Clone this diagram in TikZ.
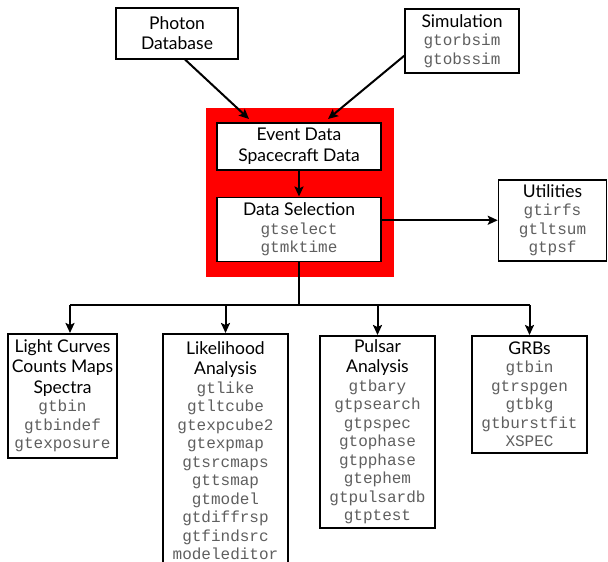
\documentclass[tikz,border=0pt]{standalone}
\usepackage{fontspec}
\setmainfont{Lato}
\setmonofont{Liberation Mono}
\usetikzlibrary{positioning,arrows.meta}
\definecolor{ToolGray}{RGB}{95,95,95}
\newcommand{\Tool}[1]{{\fontsize{16}{18.5}\ttfamily\color{ToolGray}#1}}
\tikzset{
  Box/.style = {draw, line width=1.5pt, fill=white, align=center, anchor=north,
                inner sep=3pt, font=\fontsize{17.5}{18.5}\selectfont},
  Link/.style = {line width=2pt},
  Arrow/.style = {line width=2pt, -{Stealth[length=10pt,width=9pt,inset=2pt]}}
}

\begin{document}
\begin{tikzpicture}[x=1pt, y=-1pt]
        \useasboundingbox (0,0) rectangle (608,562);
        %\draw[help lines] (0,0) grid[step=50] (608,562);
        \fill[red] (206,108) rectangle (394,277);
        \node[Box, minimum width=122, minimum height=51] (photon) at (177,7) {Photon\\[2pt]Database};
        \node[Box, minimum width=114, minimum height=64] (sim) at (462,8) {Simulation\\\Tool{gtorbsim}\\\Tool{gtobssim}};
        \node[Box, minimum width=164, minimum height=47] (event) at (299,122) {Event Data\\[2pt]Spacecraft Data};
        \node[Box, minimum width=164, minimum height=64, below=26pt of event] (datasel) {Data Selection\\\Tool{gtselect}\\\Tool{gtmktime}};
        \node[Box, minimum width=108, minimum height=81] (util) at (552.5,179) {Utilities\\\Tool{gtirfs}\\\Tool{gtltsum}\\\Tool{gtpsf}};
        \node[Box, minimum width=109, minimum height=124] (lightc) at (62.5,333) {Light Curves\\[2pt]Counts Maps\\[2pt]Spectra\\\Tool{gtbin}\\\Tool{gtbindef}\\\Tool{gtexposure}};
        \node[Box, minimum width=125, minimum height=234] (like) at (225.5,333) {Likelihood\\[2pt]Analysis\\\Tool{gtlike}\\\Tool{gtltcube}\\\Tool{gtexpcube2}\\\Tool{gtexpmap}\\\Tool{gtsrcmaps}\\\Tool{gttsmap}\\\Tool{gtmodel}\\\Tool{gtdiffrsp}\\\Tool{gtfindsrc}\\\Tool{modeleditor}};
        \node[Box, minimum width=115, minimum height=192] (pulsar) at (377.5,335) {Pulsar\\[2pt]Analysis\\\Tool{gtbary}\\\Tool{gtpsearch}\\\Tool{gtpspec}\\\Tool{gtophase}\\\Tool{gtpphase}\\\Tool{gtephem}\\\Tool{gtpulsardb}\\\Tool{gtptest}};
        \node[Box, minimum width=115, minimum height=117] (grbs) at (529.5,335) {GRBs\\\Tool{gtbin}\\\Tool{gtrspgen}\\\Tool{gtbkg}\\\Tool{gtburstfit}\\\Tool{XSPEC}};
        \coordinate (split) at (299,305);
        \draw[Arrow] ([xshift=8pt]photon.south) -- ([xshift=-50pt,yshift=3pt]event.north);
        \draw[Arrow] ([yshift=-15pt]sim.west) -- ([xshift=29pt,yshift=3pt]event.north);
        \draw[Arrow] (event) -- (datasel);
        \draw[Arrow] (datasel.east |- util) -- (util.west);
        \draw[Link] (datasel.south) -- (split);
        \draw[Link] ([xshift=7.5pt]lightc.north |- split) -- (grbs.north |- split);
        \draw[Arrow] ([xshift=7.5pt]lightc.north |- split) -- ([xshift=7.5pt]lightc.north);
        \foreach \n in {like,pulsar,grbs}
            \draw[Arrow] (\n.north |- split) -- (\n.north);
    \end{tikzpicture}
\end{document}
